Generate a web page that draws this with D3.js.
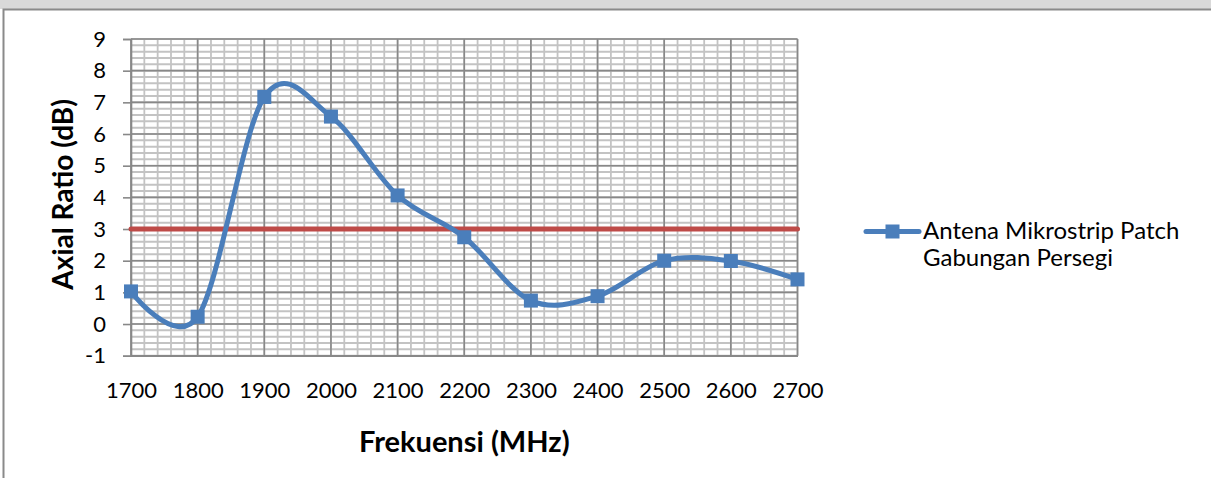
<!DOCTYPE html>
<html>
<head>
<meta charset="utf-8">
<script src="https://cdn.jsdelivr.net/npm/d3@7"></script>
<style>
  body { margin: 0; background: #ffffff; }
  svg { display: block; }
  text { font-family: Lato, "Open Sans", sans-serif; fill: #000; }
</style>
</head>
<body>
<svg id="chart" width="1211" height="478"></svg>
<script>
// Measured axial ratio of the combined square microstrip patch antenna
const frequencies = [1700, 1800, 1900, 2000, 2100, 2200, 2300, 2400, 2500, 2600, 2700];
const axialRatio  = [1.03, 0.23, 7.17, 6.55, 4.06, 2.74, 0.74, 0.88, 2.00, 1.99, 1.41];

// 3 dB axial-ratio limit for circular polarisation
const limitFreq  = [1700, 2700];
const limitValue = [3, 3];

const xTickValues = [1700, 1800, 1900, 2000, 2100, 2200, 2300, 2400, 2500, 2600, 2700];
const yTickValues = [-1, 0, 1, 2, 3, 4, 5, 6, 7, 8, 9];
const legendLines = ["Antena Mikrostrip Patch", "Gabungan Persegi"];
const xTitle = "Frekuensi (MHz)";
const yTitle = "Axial Ratio (dB)";

const W = 1211, H = 478;
const plot = { left: 131, right: 797.5, top: 39, bottom: 355.7 };

const svg = d3.select("#chart");

// page header strip and chart frame
svg.append("rect").attr("x", 0).attr("y", 0).attr("width", W).attr("height", 9)
  .attr("fill", "#d9d9d9");
svg.append("path")
  .attr("d", `M3.5,${H} V9.5 H${W}`)
  .attr("fill", "none").attr("stroke", "#8a8a8a").attr("stroke-width", 2);

const x = d3.scaleLinear().domain([1700, 2700]).range([plot.left, plot.right]);
const y = d3.scaleLinear().domain([-1, 9]).range([plot.bottom, plot.top]);

// minor grid
const minorX = d3.range(1700, 2700.1, 20);
const minorY = d3.range(-1, 9.01, 0.2);
const grid = svg.append("g");
grid.selectAll(".mx").data(minorX).join("line")
  .attr("x1", d => x(d)).attr("x2", d => x(d))
  .attr("y1", plot.top).attr("y2", plot.bottom)
  .attr("stroke", "#c3c3c3").attr("stroke-width", 1.8);
grid.selectAll(".my").data(minorY).join("line")
  .attr("x1", plot.left).attr("x2", plot.right)
  .attr("y1", d => y(d)).attr("y2", d => y(d))
  .attr("stroke", "#c3c3c3").attr("stroke-width", 2);

// major grid
grid.selectAll(".Mx").data(xTickValues).join("line")
  .attr("x1", d => x(d)).attr("x2", d => x(d))
  .attr("y1", plot.top).attr("y2", plot.bottom)
  .attr("stroke", "#888888").attr("stroke-width", 1.6);
grid.selectAll(".My").data(yTickValues).join("line")
  .attr("x1", plot.left).attr("x2", plot.right)
  .attr("y1", d => y(d)).attr("y2", d => y(d))
  .attr("stroke", "#888888").attr("stroke-width", 1.6);

// y axis with outward ticks
const yAxis = svg.append("g")
  .attr("transform", `translate(${plot.left},0)`)
  .call(d3.axisLeft(y).tickValues(yTickValues).tickSize(8).tickPadding(17).tickFormat(d => String(d)));
yAxis.select(".domain").attr("stroke", "#888888").attr("stroke-width", 1.6);
yAxis.selectAll(".tick line").attr("stroke", "#888888").attr("stroke-width", 1.6);
yAxis.selectAll(".tick text").attr("font-size", 22).attr("font-family", "Lato").attr("fill", "#000");

// x axis labels
const xAxis = svg.append("g")
  .attr("transform", `translate(0,${plot.bottom})`)
  .call(d3.axisBottom(x).tickValues(xTickValues).tickSize(0).tickPadding(27).tickFormat(d => String(d)));
xAxis.select(".domain").attr("stroke", "#888888").attr("stroke-width", 1.6);
xAxis.selectAll(".tick text").attr("font-size", 22).attr("font-family", "Lato").attr("fill", "#000");

// axis titles
svg.append("text").attr("x", (plot.left + plot.right) / 2).attr("y", 452)
  .attr("text-anchor", "middle").attr("font-size", 29).attr("font-weight", "bold")
  .text(xTitle);
svg.append("text")
  .attr("transform", `translate(73,${(plot.top + plot.bottom) / 2 - 3}) rotate(-90)`)
  .attr("text-anchor", "middle").attr("font-size", 28).attr("font-weight", "bold")
  .text(yTitle);

// 3 dB limit line
const limitPts = limitFreq.map((f, i) => [f, limitValue[i]]);
svg.append("path")
  .datum(limitPts)
  .attr("d", d3.line().x(d => x(d[0])).y(d => y(d[1])))
  .attr("fill", "none").attr("stroke", "#be4b48").attr("stroke-width", 5)
  .attr("stroke-linecap", "round");

// measured series: smoothed line with square markers
const color = "#4a7ebb";
const pts = frequencies.map((f, i) => [f, axialRatio[i]]);
svg.append("path")
  .datum(pts)
  .attr("d", d3.line().x(d => x(d[0])).y(d => y(d[1])).curve(d3.curveCardinal.tension(0)))
  .attr("fill", "none").attr("stroke", color).attr("stroke-width", 5)
  .attr("stroke-linejoin", "round").attr("stroke-linecap", "round");

const ms = 14;
svg.selectAll(".marker").data(pts).join("rect")
  .attr("x", d => x(d[0]) - ms / 2).attr("y", d => y(d[1]) - ms / 2)
  .attr("width", ms).attr("height", ms).attr("fill", color);

// legend
const lg = svg.append("g");
lg.append("line").attr("x1", 866).attr("x2", 919).attr("y1", 231.5).attr("y2", 231.5)
  .attr("stroke", color).attr("stroke-width", 5).attr("stroke-linecap", "round");
lg.append("rect").attr("x", 892.5 - ms / 2).attr("y", 231.5 - ms / 2)
  .attr("width", ms).attr("height", ms).attr("fill", color);
lg.selectAll(".lt").data(legendLines).join("text")
  .attr("x", 923).attr("y", (d, i) => 239 + i * 27)
  .attr("font-size", 24)
  .text(d => d);
</script>
</body>
</html>
